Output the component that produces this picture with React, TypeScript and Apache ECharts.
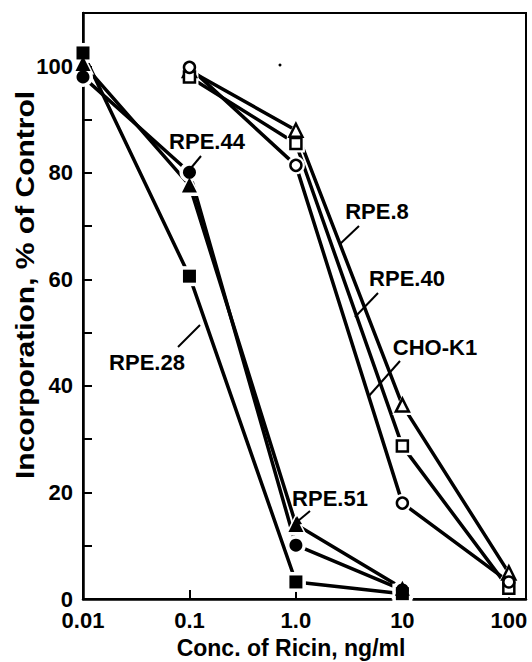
import React, { useEffect, useRef } from "react";
import * as echarts from "echarts";

// ---- data ----
const xTickValues = [0.01, 0.1, 1, 10, 100];
const xTickLabels = ["0.01", "0.1", "1.0", "10", "100"];
const yTickLabels = ["0", "20", "40", "60", "80", "100"];

// filled markers (start at 0.01)
const rpe28X = [0.01, 0.1, 1, 10];
const rpe28Y = [102.5, 60.6, 3.2, 1.0];
const rpe44X = [0.01, 0.1, 1, 10];
const rpe44Y = [98, 80.1, 10.1, 1.7];
const rpe51X = [0.01, 0.1, 1, 10];
const rpe51Y = [100.5, 77.7, 14, 2];

// open markers (start at 0.1)
const rpe8X = [0.1, 1, 10, 100];
const rpe8Y = [99.2, 88, 36.4, 4.9];
const rpe40X = [0.1, 1, 10, 100];
const rpe40Y = [98, 85.5, 28.7, 2.0];
const chok1X = [0.1, 1, 10, 100];
const chok1Y = [99.8, 81.4, 18, 3.2];

const FONT = "Liberation Sans, Arial, Helvetica, sans-serif";

type Spec = { name: string; xs: number[]; ys: number[]; symbol: string; size: number; open: boolean };
const specs: Spec[] = [
  { name: "RPE.28", xs: rpe28X, ys: rpe28Y, symbol: "rect", size: 13, open: false },
  { name: "RPE.44", xs: rpe44X, ys: rpe44Y, symbol: "circle", size: 13, open: false },
  { name: "RPE.51", xs: rpe51X, ys: rpe51Y, symbol: "triangle", size: 15, open: false },
  { name: "RPE.8", xs: rpe8X, ys: rpe8Y, symbol: "triangle", size: 13, open: true },
  { name: "RPE.40", xs: rpe40X, ys: rpe40Y, symbol: "rect", size: 11, open: true },
  { name: "CHO-K1", xs: chok1X, ys: chok1Y, symbol: "circle", size: 11, open: true },
];

const pairs = (xs: number[], ys: number[]) => xs.map((x, i) => [x, ys[i]]);

export default function App() {
  const ref = useRef<HTMLDivElement>(null);
  useEffect(() => {
    document.body.style.margin = "0";
    if (!ref.current) return;
    const chart = echarts.init(ref.current, null, { renderer: "svg" });

    const series: any[] = [];
    specs.forEach((s) => {
      series.push({
        name: s.name,
        type: "line",
        data: pairs(s.xs, s.ys),
        showSymbol: false,
        symbol: "none",
        lineStyle: { color: "#000", width: 3.5 },
        z: 2,
        silent: true,
      });
    });
    specs.forEach((s) => {
      series.push({
        name: s.name + " halo",
        type: "scatter",
        data: pairs(s.xs, s.ys),
        symbol: s.symbol,
        symbolSize: s.size + 7,
        itemStyle: { color: "#fff", opacity: 1 },
        z: 3,
        silent: true,
      });
    });
    specs.forEach((s) => {
      series.push({
        name: s.name + " marker",
        type: "scatter",
        data: pairs(s.xs, s.ys),
        symbol: s.symbol,
        symbolSize: s.size,
        itemStyle: s.open
          ? { color: "#fff", borderColor: "#000", borderWidth: 2.5, opacity: 1 }
          : { color: "#000", opacity: 1 },
        z: 4,
        silent: true,
      });
    });

    const leader = (x1: number, y1: number, x2: number, y2: number) => ({
      type: "line",
      shape: { x1, y1, x2, y2 },
      style: { stroke: "#000", lineWidth: 2 },
      z: 10,
    });
    const label = (text: string, x: number, y: number) => ({
      type: "text",
      x,
      y,
      style: {
        text,
        fill: "#000",
        font: `bold 22px ${FONT}`,
        textAlign: "center",
        textVerticalAlign: "middle",
      },
      z: 10,
    });

    chart.setOption({
      animation: false,
      backgroundColor: "#fff",
      grid: {
        left: 83,
        right: 6,
        top: 13,
        bottom: 63,
        show: true,
        borderColor: "#000",
        borderWidth: 2,
        backgroundColor: "transparent",
      },
      xAxis: {
        type: "log",
        logBase: 10,
        min: 0.01,
        max: 145,
        axisLine: { show: true, lineStyle: { color: "#000", width: 2.5 } },
        axisTick: { show: true, inside: true, length: 9, lineStyle: { color: "#000", width: 2 } },
        splitLine: { show: false },
        axisLabel: {
          color: "#000",
          fontSize: 22,
          fontWeight: "bold",
          fontFamily: FONT,
          margin: 10,
          formatter: (v: number) => {
            const idx = xTickValues.findIndex((t) => Math.abs(Math.log10(v) - Math.log10(t)) < 1e-6);
            return idx >= 0 ? xTickLabels[idx] : "";
          },
        },
      },
      yAxis: {
        type: "value",
        min: 0,
        max: 110,
        interval: 10,
        axisLine: { show: true, lineStyle: { color: "#000", width: 2.5 } },
        axisTick: { show: true, inside: true, length: 9, lineStyle: { color: "#000", width: 2 } },
        splitLine: { show: false },
        axisLabel: {
          color: "#000",
          fontSize: 22,
          fontWeight: "bold",
          fontFamily: FONT,
          margin: 10,
          formatter: (v: number) => (v % 20 === 0 && v / 20 < yTickLabels.length ? yTickLabels[v / 20] : ""),
        },
      },
      graphic: [
        {
          type: "text",
          x: 25,
          y: 285,
          rotation: Math.PI / 2,
          scaleX: 1.2,
          style: {
            text: "Incorporation, % of Control",
            fill: "#000",
            font: `bold 25px ${FONT}`,
            textAlign: "center",
            textVerticalAlign: "middle",
          },
        },
        {
          type: "text",
          x: 291,
          y: 648,
          style: {
            text: "Conc. of Ricin, ng/ml",
            fill: "#000",
            font: `bold 23px ${FONT}`,
            textAlign: "center",
            textVerticalAlign: "middle",
          },
        },
        label("RPE.44", 207, 141),
        leader(201, 156, 191, 168),
        label("RPE.8", 377, 211),
        leader(359, 226, 340, 244),
        label("RPE.40", 407, 278),
        leader(378, 293, 355, 317),
        label("CHO-K1", 435, 347),
        leader(400, 361, 368, 397),
        label("RPE.28", 147, 362),
        leader(178, 347, 200, 325),
        label("RPE.51", 330, 498),
        leader(310, 511, 298, 521),
        {
          type: "polygon",
          shape: { points: [[292, 526], [302, 524], [297, 516]] },
          style: { fill: "#000" },
          z: 10,
        },
        { type: "circle", shape: { cx: 280, cy: 65, r: 1.5 }, style: { fill: "#000" }, z: 10 },
      ],
      series,
    });
    return () => chart.dispose();
  }, []);
  return <div ref={ref} style={{ width: 532, height: 662 }} />;
}
